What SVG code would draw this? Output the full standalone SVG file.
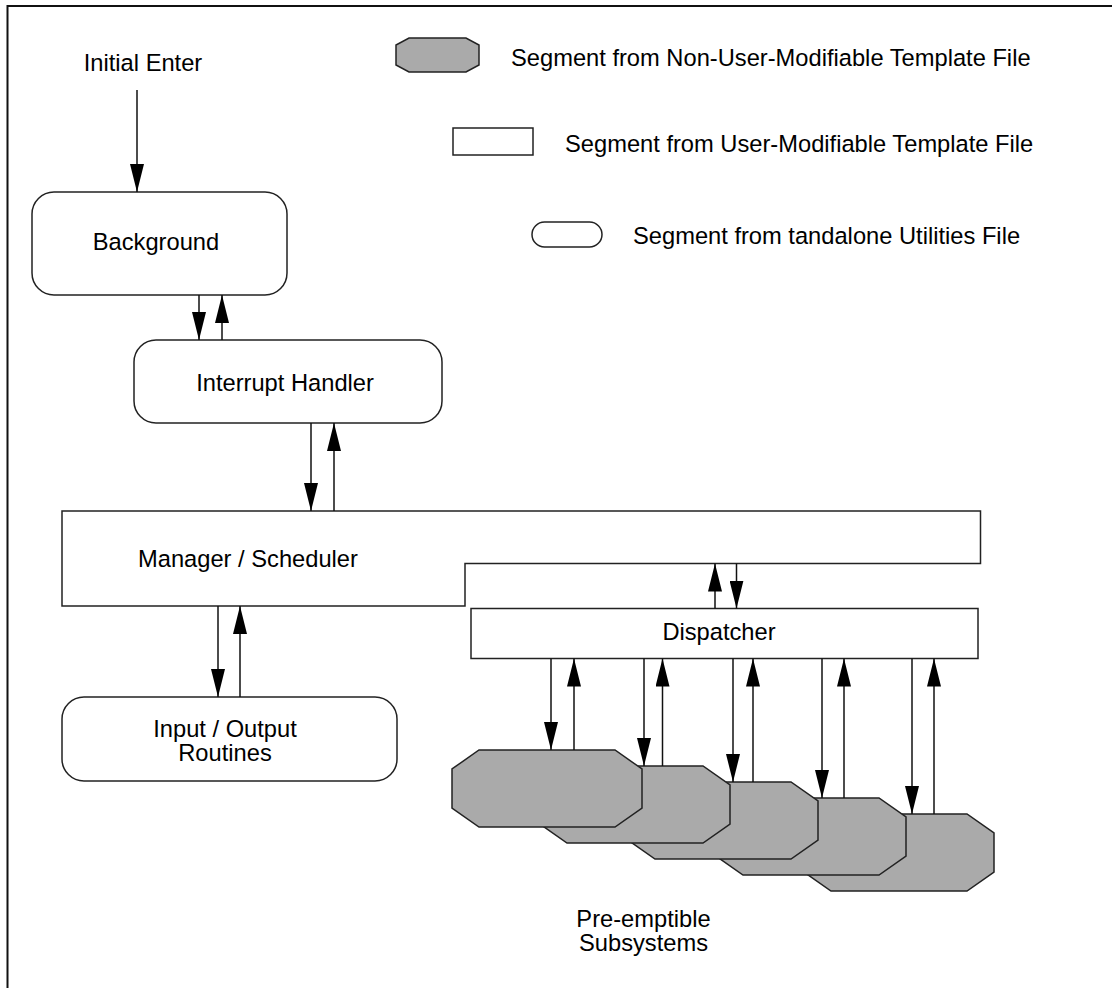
<svg xmlns="http://www.w3.org/2000/svg" width="1112" height="988" viewBox="0 0 1112 988">
<defs>
<style>
.t{font-family:"Liberation Sans",Arial,Helvetica,sans-serif;font-size:23.7px;fill:#000}
.m{text-anchor:middle}
.box{fill:#fff;stroke:#222;stroke-width:1.5}
.oct{fill:#aaaaaa;stroke:#222;stroke-width:1.5}
.ln{stroke:#111;stroke-width:1.5;fill:none}
</style>
<marker id="ah" viewBox="0 0 28 14" refX="28" refY="7" markerWidth="28" markerHeight="14" markerUnits="userSpaceOnUse" orient="auto">
<path d="M0,0 L28,7 L0,14 Z" fill="#000"/>
</marker>
<polygon id="octshape" points="27,0 163,0 190,19 190,58 163,77 27,77 0,58 0,19"/>
</defs>
<rect width="1112" height="988" fill="#fff"/>
<path d="M7.5,988 V6 H1112" fill="none" stroke="#111" stroke-width="2"/>

<g id="legend">
<polygon class="oct" points="409,38 466,38 479,45 479,65 466,72 409,72 396,65 396,45"/>
<text class="t" x="511" y="66">Segment from Non-User-Modifiable Template File</text>
<rect class="box" x="453" y="128" width="80" height="27"/>
<text class="t" x="565" y="152">Segment from User-Modifiable Template File</text>
<rect class="box" x="532" y="222" width="70" height="25" rx="12.5"/>
<text class="t" x="633" y="244">Segment from tandalone Utilities File</text>
</g>

<g id="initial-enter">
<text class="t m" x="143" y="71">Initial Enter</text>
</g>

<g id="background">
<rect class="box" x="32" y="192" width="255" height="103" rx="22"/>
<text class="t m" x="156" y="250">Background</text>
</g>

<g id="interrupt-handler">
<rect class="box" x="134" y="340" width="308" height="83" rx="22"/>
<text class="t m" x="285" y="391">Interrupt Handler</text>
</g>

<g id="manager-scheduler">
<path class="box" d="M62,511 H980.5 V563.5 H465 V606 H62 Z"/>
<text class="t" x="138" y="567">Manager / Scheduler</text>
</g>

<g id="dispatcher">
<rect class="box" x="471" y="608.5" width="507" height="50"/>
<text class="t m" x="719" y="640">Dispatcher</text>
</g>

<g id="io-routines">
<rect class="box" x="62" y="697" width="335" height="84" rx="22"/>
<text class="t m" x="225" y="737">Input / Output</text>
<text class="t m" x="225" y="761">Routines</text>
</g>

<g id="subsystems">
<use href="#octshape" class="oct" x="804" y="814"/>
<use href="#octshape" class="oct" x="716" y="798"/>
<use href="#octshape" class="oct" x="628" y="782"/>
<use href="#octshape" class="oct" x="540" y="766"/>
<use href="#octshape" class="oct" x="452" y="750"/>
<text class="t m" x="643.5" y="927">Pre-emptible</text>
<text class="t m" x="643.5" y="951">Subsystems</text>
</g>

<g id="connectors">
<line class="ln" x1="137" y1="90" x2="137" y2="192" marker-end="url(#ah)"/>
<line class="ln" x1="199" y1="295" x2="199" y2="340" marker-end="url(#ah)"/>
<line class="ln" x1="222" y1="340" x2="222" y2="295" marker-end="url(#ah)"/>
<line class="ln" x1="311" y1="423" x2="311" y2="511" marker-end="url(#ah)"/>
<line class="ln" x1="334" y1="511" x2="334" y2="423" marker-end="url(#ah)"/>
<line class="ln" x1="218" y1="606" x2="218" y2="697" marker-end="url(#ah)"/>
<line class="ln" x1="240" y1="697" x2="240" y2="606" marker-end="url(#ah)"/>
<line class="ln" x1="715" y1="608.5" x2="715" y2="563.5" marker-end="url(#ah)"/>
<line class="ln" x1="736.5" y1="563.5" x2="736.5" y2="608.5" marker-end="url(#ah)"/>
<line class="ln" x1="551" y1="658.5" x2="551" y2="750" marker-end="url(#ah)"/>
<line class="ln" x1="574" y1="750" x2="574" y2="658.5" marker-end="url(#ah)"/>
<line class="ln" x1="644" y1="658.5" x2="644" y2="766" marker-end="url(#ah)"/>
<line class="ln" x1="662.5" y1="766" x2="662.5" y2="658.5" marker-end="url(#ah)"/>
<line class="ln" x1="733" y1="658.5" x2="733" y2="782" marker-end="url(#ah)"/>
<line class="ln" x1="753" y1="782" x2="753" y2="658.5" marker-end="url(#ah)"/>
<line class="ln" x1="822" y1="658.5" x2="822" y2="798" marker-end="url(#ah)"/>
<line class="ln" x1="844" y1="798" x2="844" y2="658.5" marker-end="url(#ah)"/>
<line class="ln" x1="912" y1="658.5" x2="912" y2="814" marker-end="url(#ah)"/>
<line class="ln" x1="934" y1="814" x2="934" y2="658.5" marker-end="url(#ah)"/>
</g>
</svg>
